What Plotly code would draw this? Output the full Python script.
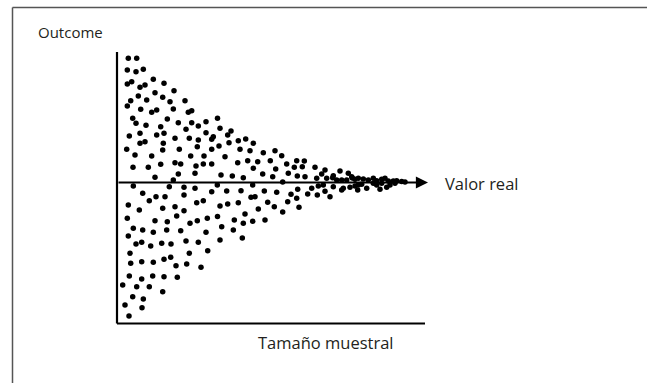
import plotly.graph_objects as go

W, H = 647, 383
X0, Y0 = 117, 182.5  # axis origin (pixel) -> sample size 0, outcome = true value

# Dot positions (pixel x, pixel y)
px = [
 128.3,136.7,127.3,136,143.3,127.3,131.7,140,145,153.3,164,138.3,155,174,146.7,162.7,130.7,127.3,170,185,
 140.7,151.7,156.7,173.3,188.3,191.7,132.7,136,146,167.3,178.3,191.7,198.3,206,217.5,160.7,186,140,156.7,164,
 129.3,175,189.3,198.3,211.7,213.3,220,206,140,145,163.3,197.3,126.7,162.7,179.3,211.7,219,135,151.7,190.7,
 204,133,148.3,160.7,175,180.7,196,203.3,211.7,178.3,195,155,173.3,
 227.7,231,229,238.3,245.7,253.3,240,250,225,263.3,275,281.7,237.7,247.7,257.7,270.3,286.7,296.7,304.3,253.3,
 275.7,294.3,302.3,315,221,232.3,243.3,262.7,272.7,288.3,297.3,305,316.7,321.7,282.7,
 325,333.3,340,348.3,351.7,332.7,326.7,336.7,341.7,346.7,352.3,355,358.3,363.3,368.3,373.3,376.7,381.7,385,388.3,
 393.3,396.7,401.7,405,
 323.3,333.3,341.7,343.3,350,355,358.3,361.7,366.7,373.3,376.7,380,381.7,386.7,390,395,317.3,330,357.7,
 133.3,169.3,184,195,211.7,217.3,142.7,184,149.3,156,165,196.7,203.3,128.3,139.3,162.7,175,184,220,127.3,
 155,167.3,176.7,190,197.3,207.3,217.5,133.3,142.7,153.3,166.7,180.7,206,128.3,220,136,141.7,150.7,161.7,171,
 186,198.3,130,189.3,207.7,130.7,141.7,153.3,164,170.7,176,186.7,201,129.3,141.7,152.7,164,177.3,122.7,136.7,
 149.3,162.7,132.7,143.3,125,142,129,
 226.7,241,252.7,264.3,276.7,297.7,291,296.7,307.7,311.7,318.3,325,251,255,227.7,238.3,267.7,287.7,258.3,274.3,
 299,245,282.7,234.3,243.3,252.7,265,221.7,233.3,242.3,
]
py = [
 58.3,58.3,70,71.7,69.3,84,81.7,87.3,85,79.3,83.3,96,92.7,90.7,100,97.3,100.7,106,101.7,100.7,
 109.3,112.3,110,109,112.3,110.7,118.3,123.3,125.3,119,122.7,122.7,126,121.7,118.3,126.7,129.3,133.3,135,133.3,
 136,138.3,138.3,140,139.3,136.7,128.3,132.7,143.3,141.7,143.3,146.7,149.3,150,149.3,149.3,146,155,156,156,
 156,167.3,167.3,164.3,162.7,164,166,164,164,174,173.3,177.3,180,
 135,131,142.7,140.7,139,143.3,149.3,150.7,156.7,152.7,150.7,155.7,162.7,160.7,161.7,160.7,164,160.7,161,168.3,
 169,167.3,166.7,167.3,175,176,177.7,174,176.7,173.3,176,176.7,178.3,174,182,
 170,175.7,171,173.3,176.7,177.7,178.3,180,180,180,178,179.3,178.3,179,180,178.3,180.7,179.3,178.3,181,
 181,180.7,181.5,182,
 185,186.7,190,188.3,187.3,186,185,184.3,188.3,183.3,185,189.3,183.3,187.3,185,183.3,195,196.7,190,
 186,186.7,187.3,188.3,191.7,185,193.3,195,200.7,196.7,196.7,202.7,200.7,205,210,208.3,206.7,210.7,206,218.3,
 220.7,221.7,216,223.3,220.7,218.3,216.5,228.3,230,232.3,230,230.7,232.3,236,240,244,242.3,246,243.3,244,
 241,242.3,253.3,253.3,250.7,263.3,261.7,262.3,259.3,257.3,265.7,264,267.3,276,279,276,276.7,277.3,285,286.7,
 286.7,291.7,296.7,299,305,307.7,316,
 191,190.7,185,191,192.3,189.3,194.3,198.3,194,188.3,186,191.2,197.3,196.7,204,202.7,202.3,201.7,209,206.7,
 207.3,214,212,220,223.3,221.3,220,226.7,230,238,
]

tamano = [round(v - X0, 1) for v in px]
efecto = [round(Y0 - v, 1) for v in py]

def dx(p):
    return p - X0

def dy(p):
    return Y0 - p

fig = go.Figure()
fig.add_trace(go.Scatter(
    x=tamano, y=efecto, mode="markers",
    marker=dict(size=5.5, color="#000000", line=dict(width=0)),
    hoverinfo="skip", showlegend=False,
))

shapes = []
# outer frame (open at right and bottom)
shapes.append(dict(type="line", xref="paper", yref="paper", x0=12.5/W, x1=12.5/W, y0=0, y1=1-7.5/H,
                   line=dict(color="#555555", width=1.5)))
shapes.append(dict(type="line", xref="paper", yref="paper", x0=12.5/W, x1=1, y0=1-7.5/H, y1=1-7.5/H,
                   line=dict(color="#555555", width=1.5)))
# vertical axis
shapes.append(dict(type="line", xref="x", yref="y", x0=0, x1=0, y0=dy(52), y1=dy(323.5),
                   line=dict(color="#000000", width=2.2)))
# bottom axis
shapes.append(dict(type="line", xref="x", yref="y", x0=0, x1=dx(425), y0=dy(323.5), y1=dy(323.5),
                   line=dict(color="#000000", width=2.2)))

annotations = [
    dict(x=dx(428), y=0, ax=0, ay=0, xref="x", yref="y", axref="x", ayref="y",
         showarrow=True, arrowhead=2, arrowsize=1.1, arrowwidth=2.2, arrowcolor="#000000", text=""),
    dict(x=dx(36), y=dy(32), xref="x", yref="y", text="Outcome", showarrow=False,
         xanchor="left", yanchor="middle", font=dict(family="Open Sans", size=15, color="#231f20")),
    dict(x=dx(443), y=dy(183.5), xref="x", yref="y", text="Valor real", showarrow=False,
         xanchor="left", yanchor="middle", font=dict(family="Open Sans", size=16.5, color="#231f20")),
    dict(x=dx(256), y=dy(342), xref="x", yref="y", text="Tamaño muestral", showarrow=False,
         xanchor="left", yanchor="middle", font=dict(family="Open Sans", size=16.5, color="#231f20")),
]

fig.update_layout(
    width=W, height=H, margin=dict(l=0, r=0, t=0, b=0),
    paper_bgcolor="white", plot_bgcolor="white",
    xaxis=dict(range=[dx(0), dx(W)], visible=False, fixedrange=True),
    yaxis=dict(range=[dy(H), dy(0)], visible=False, fixedrange=True),
    shapes=shapes, annotations=annotations, showlegend=False,
)
fig.write_html("out.html", config={"displayModeBar": False},
               post_script="document.body.style.margin='0';document.body.style.overflow='hidden';")
